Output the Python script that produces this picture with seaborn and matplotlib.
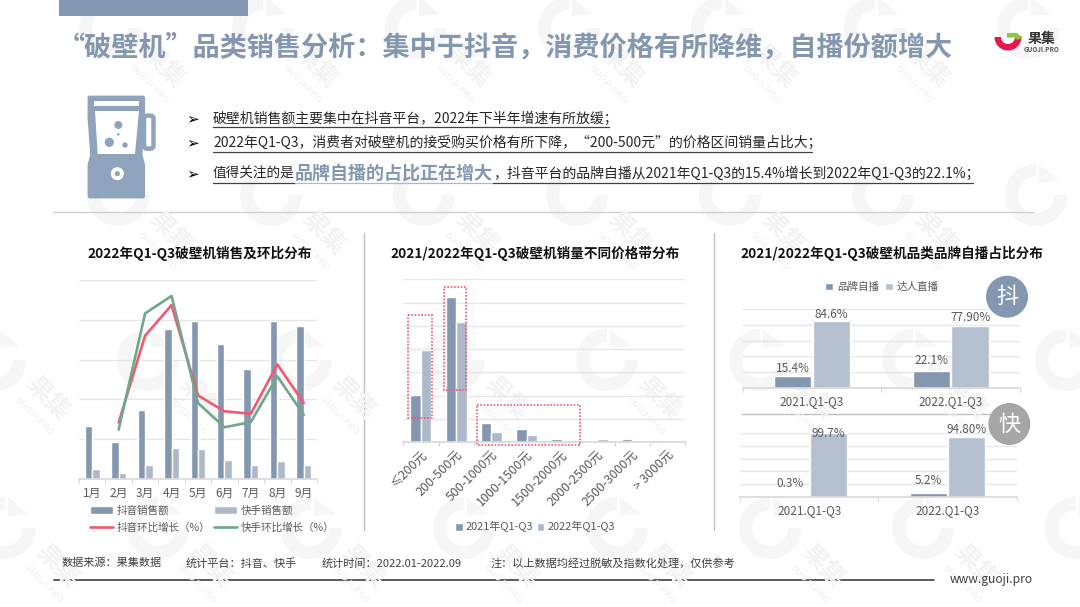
import numpy as np
import pandas as pd
import matplotlib
matplotlib.use('Agg')
import matplotlib.pyplot as plt
from matplotlib.lines import Line2D
from matplotlib.patches import Circle, FancyBboxPatch, Polygon, Rectangle, Wedge
import seaborn as sns

sns.set_theme(style='white')
plt.rcParams['font.family'] = ['Noto Sans CJK SC', 'DejaVu Sans']
plt.rcParams['axes.unicode_minus'] = False

# 销售及环比
months = ['1月', '2月', '3月', '4月', '5月', '6月', '7月', '8月', '9月']
douyin_sales = [1.32, 0.94, 1.73, 3.78, 3.97, 3.38, 2.77, 3.97, 3.84]
kuaishou_sales = [0.25, 0.15, 0.34, 0.79, 0.75, 0.48, 0.34, 0.44, 0.36]
growth_months = months[1:]
douyin_growth = [1.42, 3.60, 4.37, 2.10, 1.70, 1.64, 2.88, 1.91]
kuaishou_growth = [1.24, 4.16, 4.60, 1.91, 1.30, 1.43, 2.58, 1.61]

# 价格带
price_bands = ['≤200元', '200-500元', '500-1000元', '1000-1500元', '1500-2000元',
               '2000-2500元', '2500-3000元', '> 3000元']
volume_2021 = [2.02, 6.23, 0.83, 0.56, 0.15, 0.06, 0.15, 0.09]
volume_2022 = [3.96, 5.16, 0.43, 0.30, 0.05, 0.11, 0.05, 0.05]

# 自播占比
periods = ['2021.Q1-Q3', '2022.Q1-Q3']
dy_brand = [15.4, 22.1]
dy_talent = [84.6, 77.9]
ks_brand = [0.3, 5.2]
ks_talent = [99.7, 94.8]
dy_labels = ['15.4%', '22.1%', '84.6%', '77.90%']
ks_labels = ['0.3%', '5.2%', '99.7%', '94.80%']

W, H = 1080, 607
BLUE = '#8497B0'
LIGHT = '#ADB9CA'
LIGHT2 = '#B4C0CF'
RED = '#EF5A70'
GREEN = '#6FA888'
GRID = '#E7E6E6'
AXIS = '#D9D9D9'
GRAY = '#595959'
DARK = '#262626'

fig = plt.figure(figsize=(W / 100, H / 100), dpi=100, facecolor='white')


def overlay(z):
    a = fig.add_axes([0, 0, 1, 1], zorder=z)
    a.set_xlim(0, W)
    a.set_ylim(H, 0)
    a.axis('off')
    a.patch.set_alpha(0)
    return a


def panel(x0, y0, x1, y1):
    a = fig.add_axes([x0 / W, 1 - y1 / H, (x1 - x0) / W, (y1 - y0) / H], zorder=2)
    a.patch.set_alpha(0)
    return a


def style_axis(a, ymax, nticks, labelsize, pad=5):
    n = len(a.get_xticks())
    a.set_xlim(-0.5, n - 0.5)
    a.set_ylim(0, ymax)
    a.set_yticks(np.linspace(0, ymax, nticks))
    a.set_yticklabels([])
    a.yaxis.grid(True, color=GRID, lw=1)
    a.xaxis.grid(False)
    a.set_axisbelow(True)
    a.set_xlabel('')
    a.set_ylabel('')
    for side in ['top', 'left', 'right']:
        a.spines[side].set_visible(False)
    a.spines['bottom'].set_color(AXIS)
    a.set_xticks(np.arange(-0.5, n, 1), minor=True)
    a.tick_params(axis='x', which='minor', length=3, color=AXIS, width=0.8, bottom=True)
    a.tick_params(axis='x', which='major', length=0, labelsize=labelsize, labelcolor=GRAY, pad=pad)
    a.tick_params(axis='y', length=0)


def legend_at(a, handles, labels, cx, cy, ncol, size, **kw):
    a.legend(handles, labels, loc='center', bbox_to_anchor=(cx / W, 1 - cy / H),
             bbox_transform=fig.transFigure, ncol=ncol, frameon=False, fontsize=size,
             labelcolor=GRAY, borderpad=0, **kw)


bg = overlay(0)
fg = overlay(5)

# 水印
for gy, gx0 in zip([28, 195, 360, 528], [110, 118, 148, 158]):
    for k in range(-1, 7):
        gx = gx0 + 153 * k
        bg.add_patch(Wedge((gx, gy), 31, 0, 270, width=13, color='#F6F6F6', lw=0))
        bg.add_patch(Polygon([(gx + 3, gy - 31), (gx + 24, gy - 14), (gx + 3, gy - 12)],
                             color='#F6F6F6', lw=0))
        if 35 < gx + 52 < 1040:
            bg.text(gx + 52, gy + 38, '果集', rotation=-45, fontsize=18, fontweight='bold',
                    color='#F3F3F3', ha='center', va='center')
            bg.text(gx + 39, gy + 56, 'GUOJI.PRO', rotation=-45, fontsize=6.5, fontweight='bold',
                    color='#F3F3F3', ha='center', va='center')

# 页眉
bg.add_patch(Rectangle((59, 0), 189, 15.5, color=BLUE, lw=0))
bg.text(58, 48, '“破壁机”品类销售分析：集中于抖音，消费价格有所降维，自播份额增大',
        fontsize=19.5, fontweight='bold', color=BLUE, ha='left', va='center')

# logo
bg.add_patch(Wedge((1008, 37), 13.5, -5, 180, width=6.5, color='#E5174C', lw=0))
bg.add_patch(Polygon([(1007, 33), (1017, 33), (1022, 37.5), (1018, 40), (1014, 37.5), (1007, 37.5)],
                     color='#8CC63F', lw=0))
bg.text(1041.5, 39, '果集', fontsize=10, fontweight='bold', color='#333333', ha='center', va='center')
bg.text(1041.5, 50, 'GUOJI.PRO', fontsize=4.6, fontweight='bold', color='#555555', ha='center', va='center')


# 破壁机图标
def ix(zx):
    return 75 + zx / 3


def iy(zy):
    return 85 + zy / 3


ICON = '#8FA3BC'
bg.add_patch(FancyBboxPatch((ix(207), iy(92)), 9.5, 33, boxstyle='round,pad=0,rounding_size=3',
                            fc='none', ec=ICON, lw=3.2))
bg.add_patch(Polygon([(ix(44), iy(38)), (ix(204), iy(38)), (ix(204), iy(100)), (ix(196), iy(210)),
                      (ix(204), iy(240)), (ix(204), iy(334)), (ix(44), iy(334)), (ix(44), iy(240)),
                      (ix(52), iy(210)), (ix(44), iy(100))],
                     fc=ICON, ec=ICON, lw=3, joinstyle='round'))
bg.add_patch(Rectangle((ix(58), iy(48)), 44.5, 5, color='white', lw=0))
bg.add_patch(Polygon([(ix(60), iy(78)), (ix(192), iy(78)), (ix(180), iy(207)), (ix(68), iy(207))],
                     color='white', lw=0))
for zx, zy, r in [(130, 120, 4), (130, 148, 1.3), (103, 172, 4.6), (150, 180, 2.7)]:
    bg.add_patch(Circle((ix(zx), iy(zy)), r, color=ICON, lw=0))
bg.add_patch(Circle((ix(127), iy(266)), 6.5, color='white', lw=0))
bg.add_patch(Circle((ix(127), iy(266)), 2.6, color=ICON, lw=0))

# 要点
TXT = 10
bullets = [(119, 127, '破壁机销售额主要集中在抖音平台，2022年下半年增速有所放缓；', 609),
           (143, 151.5, '2022年Q1-Q3，消费者对破壁机的接受购买价格有所下降，“200-500元”的价格区间销量占比大；', 812)]
for ty, uy, s, end in bullets:
    bg.text(193, ty, '➢', fontsize=11, color='black', ha='center', va='center')
    bg.text(213, ty, s, fontsize=TXT, color=DARK, ha='left', va='center')
    bg.plot([213, end], [uy, uy], color='#404040', lw=0.9)
bg.text(193, 174, '➢', fontsize=11, color='black', ha='center', va='center')
bg.text(213, 174, '值得关注的是', fontsize=9.8, color=DARK, ha='left', va='center')
bg.text(295, 173, '品牌自播的占比正在增大', fontsize=13, fontweight='bold', color=BLUE, ha='left', va='center')
bg.text(493, 174, '，抖音平台的品牌自播从2021年Q1-Q3的15.4%增长到2022年Q1-Q3的22.1%；',
        fontsize=TXT, color=DARK, ha='left', va='center')
bg.plot([213, 295], [183, 183], color='#404040', lw=0.9)
bg.plot([295, 493], [183, 183], color=LIGHT, lw=0.9)
bg.plot([493, 973], [183, 183], color='#404040', lw=0.9)

# 分隔线
bg.plot([53, 1033], [212, 212], color='#D0D0D0', lw=1)
bg.plot([364, 364], [233, 530], color='#BFBFBF', lw=1)
bg.plot([714, 714], [233, 530], color='#BFBFBF', lw=1)

# 小标题
for cx, s in [(200, '2022年Q1-Q3破壁机销售及环比分布'),
              (535, '2021/2022年Q1-Q3破壁机销量不同价格带分布'),
              (892, '2021/2022年Q1-Q3破壁机品类品牌自播占比分布')]:
    bg.text(cx, 253, s, fontsize=9.8, fontweight='bold', color='#111111', ha='center', va='center')

# 页脚
for fx, s in [(62, '数据来源：果集数据'), (186, '统计平台：抖音、快手'), (322, '统计时间：2022.01-2022.09'),
              (491, '注：以上数据均经过脱敏及指数化处理，仅供参考')]:
    bg.text(fx, 563, s, fontsize=8, color='#404040', ha='left', va='center')
bg.plot([54, 934], [580, 580], color='#404040', lw=1.2)
bg.text(950, 580, 'www.guoji.pro', fontsize=8.7, color='#404040', ha='left', va='center')

# 图1
ax1 = panel(79, 280, 317, 479)
df1 = pd.DataFrame({'月份': months * 2,
                    '销售额': douyin_sales + kuaishou_sales,
                    '平台': ['抖音销售额'] * 9 + ['快手销售额'] * 9})
sns.barplot(data=df1, x='月份', y='销售额', hue='平台', palette=[BLUE, LIGHT], width=0.56,
            ax=ax1, legend=False, saturation=1)
growth_x = np.arange(1, len(months))
sns.lineplot(x=growth_x, y=douyin_growth, color=RED, lw=1.9, ax=ax1, legend=False)
sns.lineplot(x=growth_x, y=kuaishou_growth, color=GREEN, lw=1.9, ax=ax1, legend=False)
ax1.set_xticks(range(len(months)))
ax1.set_xticklabels(months)
style_axis(ax1, 5, 6, 8.5, pad=6)
h1 = [ax1.containers[0][0], Line2D([], [], color=RED, lw=1.9),
      ax1.containers[1][0], Line2D([], [], color=GREEN, lw=1.9)]
legend_at(ax1, h1, ['抖音销售额', '抖音环比增长（%）', '快手销售额', '快手环比增长（%）'], 212, 519, 2, 7.6,
          handlelength=2.2, handletextpad=0.3, columnspacing=0.35, labelspacing=0.6)

# 图2
ax2 = panel(403.3, 279.3, 685, 442)
df2 = pd.DataFrame({'价格带': price_bands * 2,
                    '销量': volume_2021 + volume_2022,
                    '年份': ['2021年Q1-Q3'] * 8 + ['2022年Q1-Q3'] * 8})
sns.barplot(data=df2, x='价格带', y='销量', hue='年份', palette=[BLUE, LIGHT], width=0.6,
            ax=ax2, legend=False, saturation=1)
style_axis(ax2, 7, 8, 9)
plt.setp(ax2.get_xticklabels(), rotation=45, ha='right', rotation_mode='anchor')
h2 = [ax2.containers[0][0], ax2.containers[1][0]]
legend_at(ax2, h2, ['2021年Q1-Q3', '2022年Q1-Q3'], 535, 527, 2, 7.9,
          handlelength=0.7, handleheight=0.7, handletextpad=0.3, columnspacing=0.3)
for x0, y0, x1, y1 in [(408, 314.7, 432.3, 418.3), (444, 286.7, 466.3, 390), (476.7, 404.7, 580, 445)]:
    fg.add_patch(Rectangle((x0, y0), x1 - x0, y1 - y0, fc='none', ec=RED, lw=1.2, ls=(0, (1, 1))))


# 图3 上下两个
def share_panel(a, brand, talent, labels, pads):
    d = pd.DataFrame({'期间': periods * 2, '占比': brand + talent,
                      '类型': ['品牌自播'] * 2 + ['达人直播'] * 2})
    sns.barplot(data=d, x='期间', y='占比', hue='类型', palette=[BLUE, LIGHT2], width=0.56, gap=0.04,
                ax=a, legend=False, saturation=1)
    style_axis(a, 100, 6, 8.5)
    bars = list(a.containers[0]) + list(a.containers[1])
    for bar, s, p in zip(bars, labels, pads):
        a.annotate(s, (bar.get_x() + bar.get_width() / 2, bar.get_height()), xytext=(0, p),
                   textcoords='offset pixels', ha='center', va='center', fontsize=8.5,
                   color=GRAY, annotation_clip=False)


ax3 = panel(742.7, 308.7, 1020, 388.3)
share_panel(ax3, dy_brand, dy_talent, dy_labels, [8, 10, 6, 9])
legend_at(ax3, [ax3.containers[0][0], ax3.containers[1][0]], ['品牌自播', '达人直播'], 882, 287, 2, 7.6,
          handlelength=0.7, handleheight=0.7, handletextpad=0.4, columnspacing=0.6)

ax4 = panel(740, 433.3, 1016.7, 496.7)
share_panel(ax4, ks_brand, ks_talent, ks_labels, [13, 13, 0, 7])
bg.plot([742, 1020], [414.3, 414.3], color='#BFBFBF', lw=1)

# 角标
for cx, cy, s, col in [(1007, 296.7, '抖', BLUE), (1009.3, 424, '快', '#A6A6A6')]:
    fg.add_patch(Circle((cx, cy), 21, color=col, lw=0))
    fg.text(cx, cy, s, fontsize=16, color='white', ha='center', va='center')

fig.savefig('out.png', dpi=100)
